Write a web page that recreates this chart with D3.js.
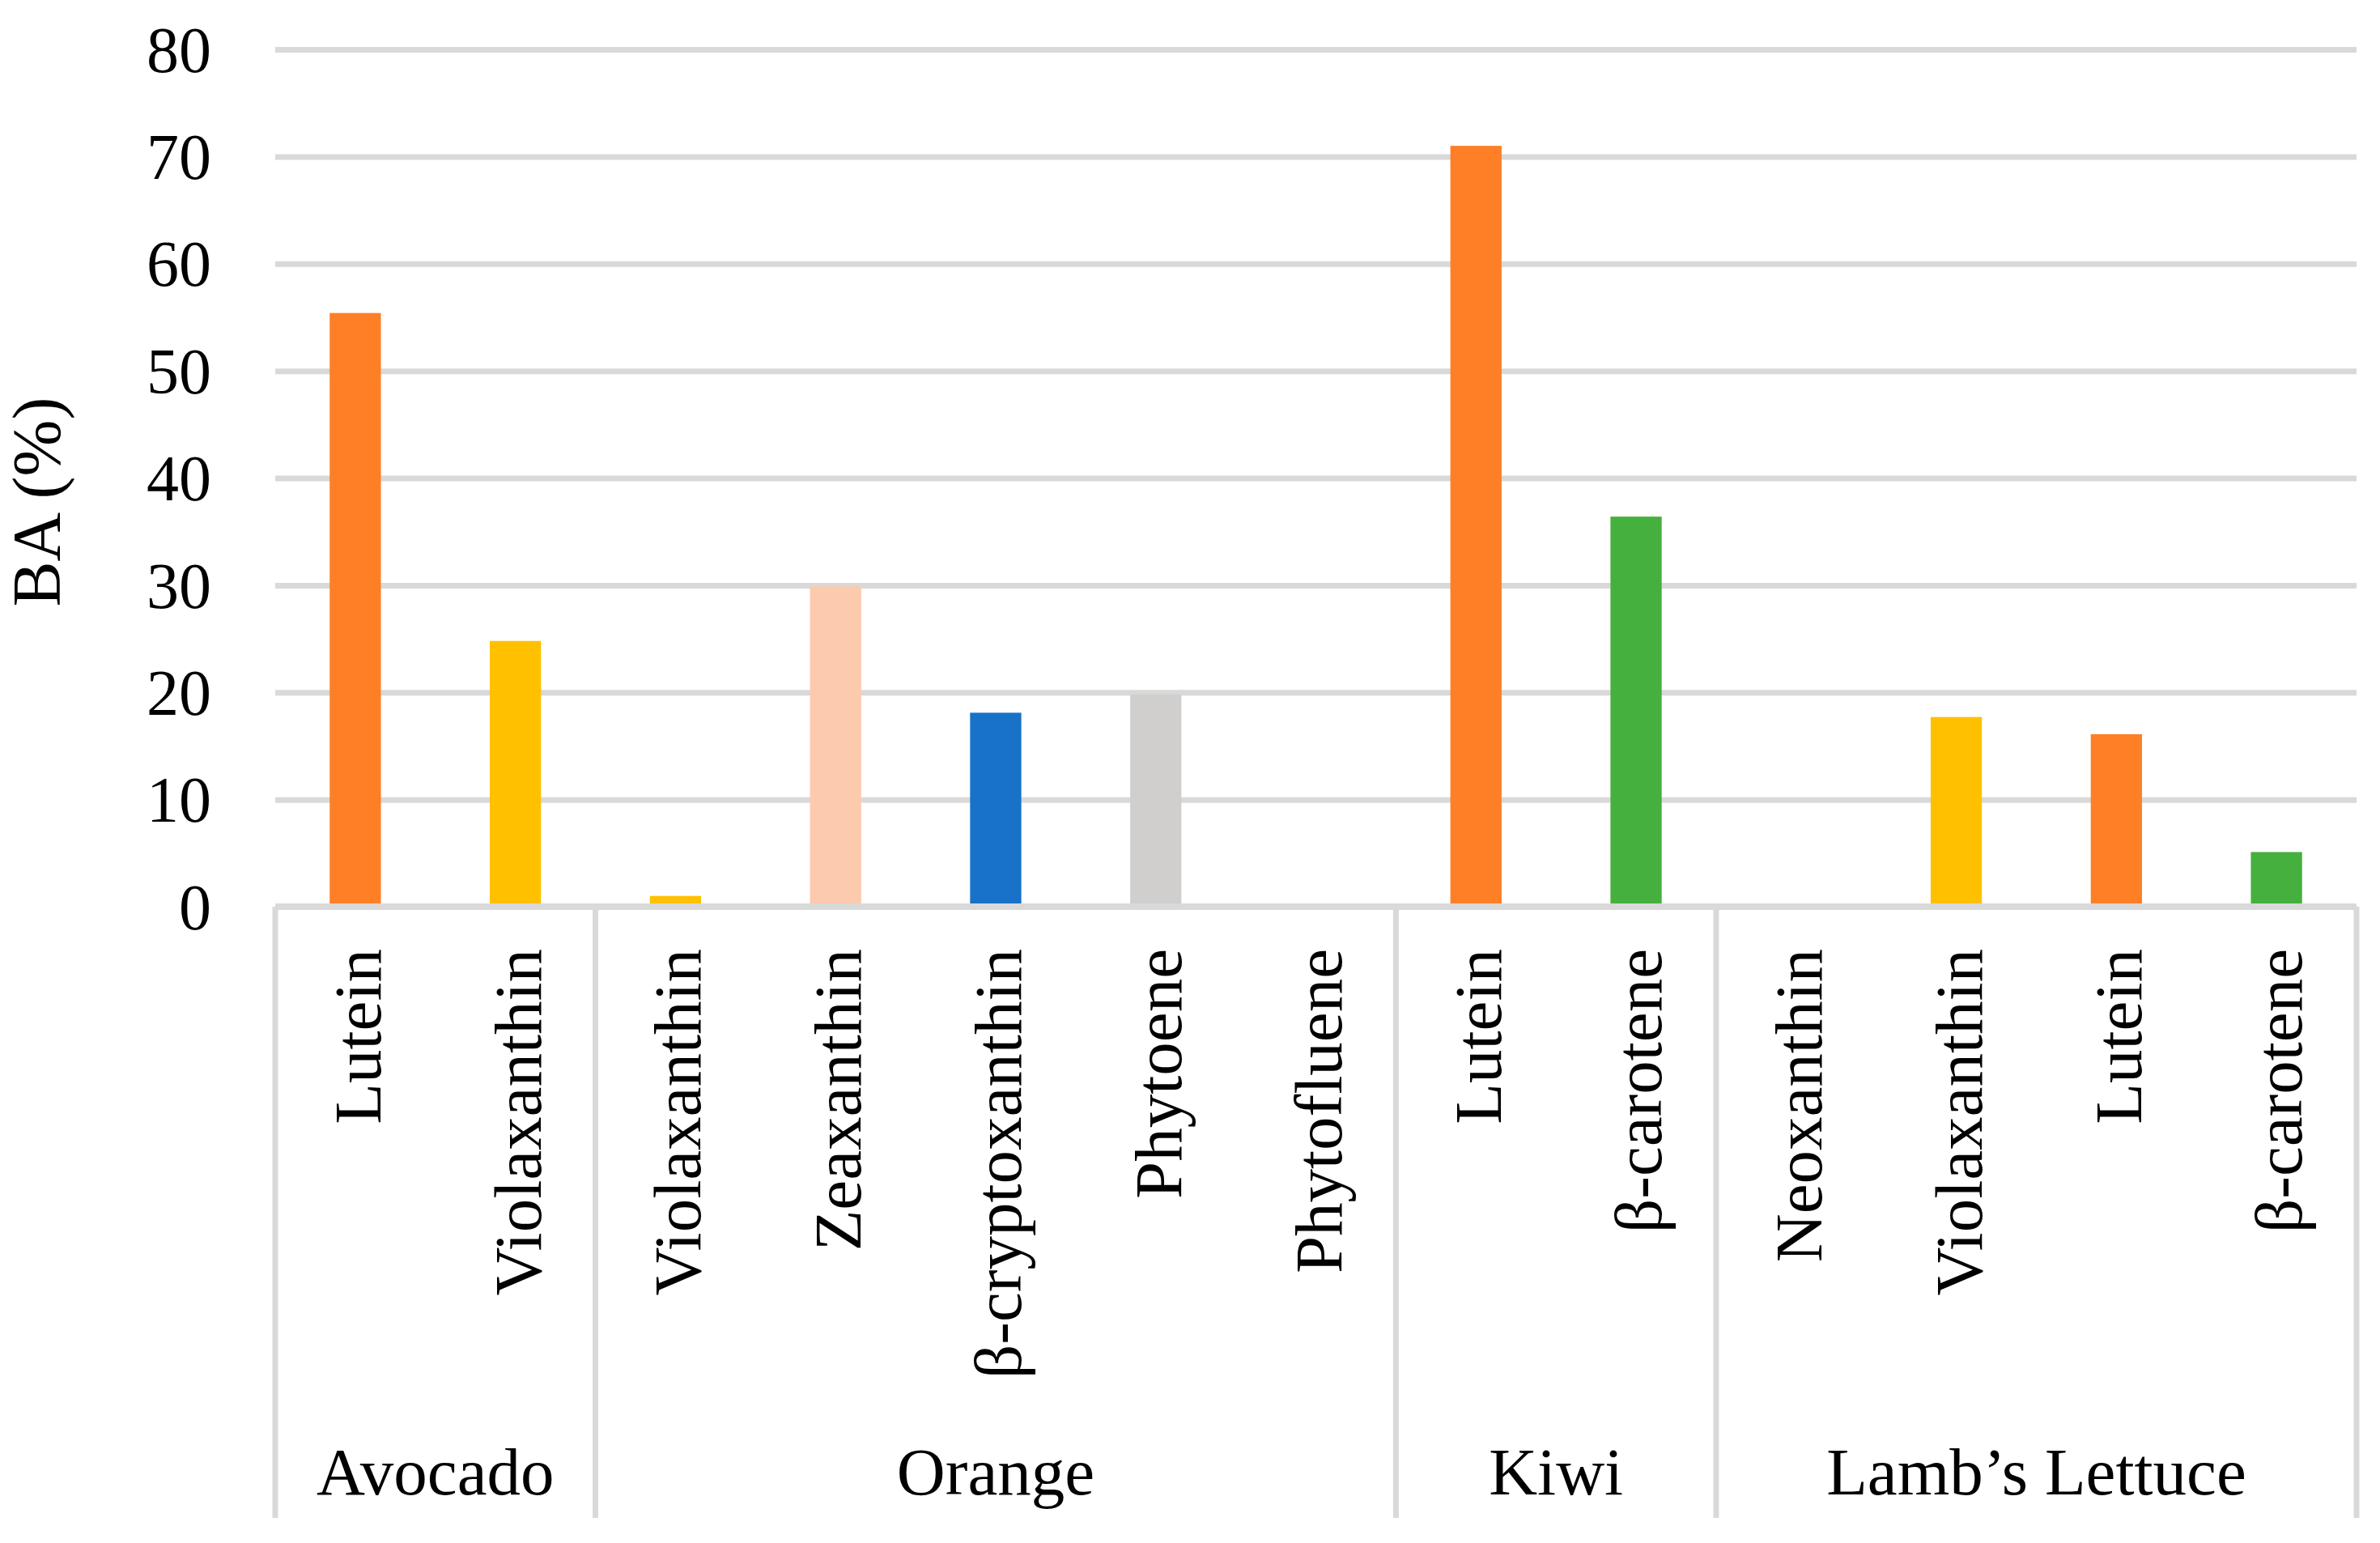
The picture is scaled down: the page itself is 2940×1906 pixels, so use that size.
<!DOCTYPE html>
<html>
<head>
<meta charset="utf-8">
<script src="https://cdn.jsdelivr.net/npm/d3@7"></script>
<style>
  html, body { margin: 0; padding: 0; background: #fff; }
  svg text { font-family: "Liberation Serif", "Times New Roman", serif; fill: #000; }
</style>
</head>
<body>
<svg id="chart"></svg>
<script>
// Data:
const groups = ["Avocado", "Orange", "Kiwi", "Lamb’s Lettuce"];
const pigments = ["Lutein", "Violaxanthin",
  "Violaxanthin", "Zeaxanthin", "β-cryptoxanthin", "Phytoene", "Phytofluene",
  "Lutein", "β-carotene",
  "Neoxanthin", "Violaxanthin", "Lutein", "β-carotene"];
const pigmentGroup = ["Avocado", "Avocado",
  "Orange", "Orange", "Orange", "Orange", "Orange",
  "Kiwi", "Kiwi",
  "Lamb’s Lettuce", "Lamb’s Lettuce", "Lamb’s Lettuce", "Lamb’s Lettuce"];
const values = [55.4, 24.8, 1.0, 29.9, 18.1, 19.8, 0, 71.0, 36.4, 0, 17.7, 16.1, 5.1];
const yTicks = [0, 10, 20, 30, 40, 50, 60, 70, 80];

const colour = d3.scaleOrdinal()
  .domain(["Lutein", "Violaxanthin", "Zeaxanthin", "β-cryptoxanthin", "Phytoene", "Phytofluene", "β-carotene", "Neoxanthin"])
  .range(["#ff7f27", "#ffc000", "#fccbad", "#1772c8", "#d0cfcd", "#a5a5a5", "#45b03d", "#7f7f7f"]);

const W = 2940, H = 1906;
const margin = {left: 340, right: 29, top: 61, bottom: 786};
const plotW = W - margin.left - margin.right;
const plotH = H - margin.top - margin.bottom;
const fontSize = 80;
const catFont = 83;

const svg = d3.select("#chart").attr("width", W).attr("height", H);
const g = svg.append("g").attr("transform", `translate(${margin.left},${margin.top})`);

const idx = d3.range(pigments.length);
const x = d3.scaleBand().domain(idx).range([0, plotW]).padding(0);
const y = d3.scaleLinear().domain([0, 80]).range([plotH, 0]);
const barW = x.bandwidth() * 0.32;

// gridlines
g.append("g")
  .call(d3.axisLeft(y).tickValues(yTicks.slice(1)).tickSize(-plotW).tickFormat(""))
  .call(a => a.select(".domain").remove())
  .call(a => a.selectAll("line").attr("stroke", "#d9d9d9").attr("stroke-width", 7));

// y tick labels
g.append("g")
  .attr("transform", "translate(-79,0)")
  .call(d3.axisLeft(y).tickValues(yTicks).tickSize(0).tickPadding(0))
  .call(a => a.select(".domain").remove())
  .call(a => a.selectAll("text")
    .attr("font-size", fontSize)
    .attr("font-family", "Liberation Serif")
    .attr("fill", "#000")
    .attr("dy", "0.34em"));

// bars
g.selectAll(".bar")
  .data(idx)
  .enter().append("rect")
    .attr("class", "bar")
    .attr("x", i => x(i) + x.bandwidth() / 2 - barW / 2)
    .attr("y", i => y(values[i]))
    .attr("width", barW)
    .attr("height", i => plotH - y(values[i]))
    .attr("fill", i => colour(pigments[i]));

// category axis: baseline + group separators
const lineCol = "#d9d9d9";
const sepBottom = 1875 - margin.top;
g.append("line")
  .attr("x1", 0).attr("x2", plotW)
  .attr("y1", plotH).attr("y2", plotH)
  .attr("stroke", lineCol).attr("stroke-width", 8);

// group extents
const groupInfo = groups.map(name => {
  const members = idx.filter(i => pigmentGroup[i] === name);
  return {name, start: x(members[0]), end: x(members[members.length - 1]) + x.bandwidth()};
});
const bounds = [0].concat(groupInfo.map(d => d.end));
g.selectAll(".sep")
  .data(bounds)
  .enter().append("line")
    .attr("class", "sep")
    .attr("x1", d => d).attr("x2", d => d)
    .attr("y1", plotH).attr("y2", sepBottom)
    .attr("stroke", lineCol).attr("stroke-width", 7);

// pigment labels (rotated)
g.selectAll(".cat")
  .data(idx)
  .enter().append("text")
    .attr("class", "cat")
    .attr("transform", i => `translate(${x(i) + x.bandwidth() / 2 + 31},${plotH + 52}) rotate(-90)`)
    .attr("text-anchor", "end")
    .attr("font-size", catFont)
    .text(i => pigments[i]);

// group labels
g.selectAll(".grp")
  .data(groupInfo)
  .enter().append("text")
    .attr("class", "grp")
    .attr("x", d => (d.start + d.end) / 2)
    .attr("y", 1846 - margin.top)
    .attr("text-anchor", "middle")
    .attr("font-size", catFont)
    .text(d => d.name);

// y axis title
svg.append("text")
  .attr("transform", "translate(74,620) rotate(-90)")
  .attr("text-anchor", "middle")
  .attr("font-size", 84)
  .text("BA (%)");
</script>
</body>
</html>
